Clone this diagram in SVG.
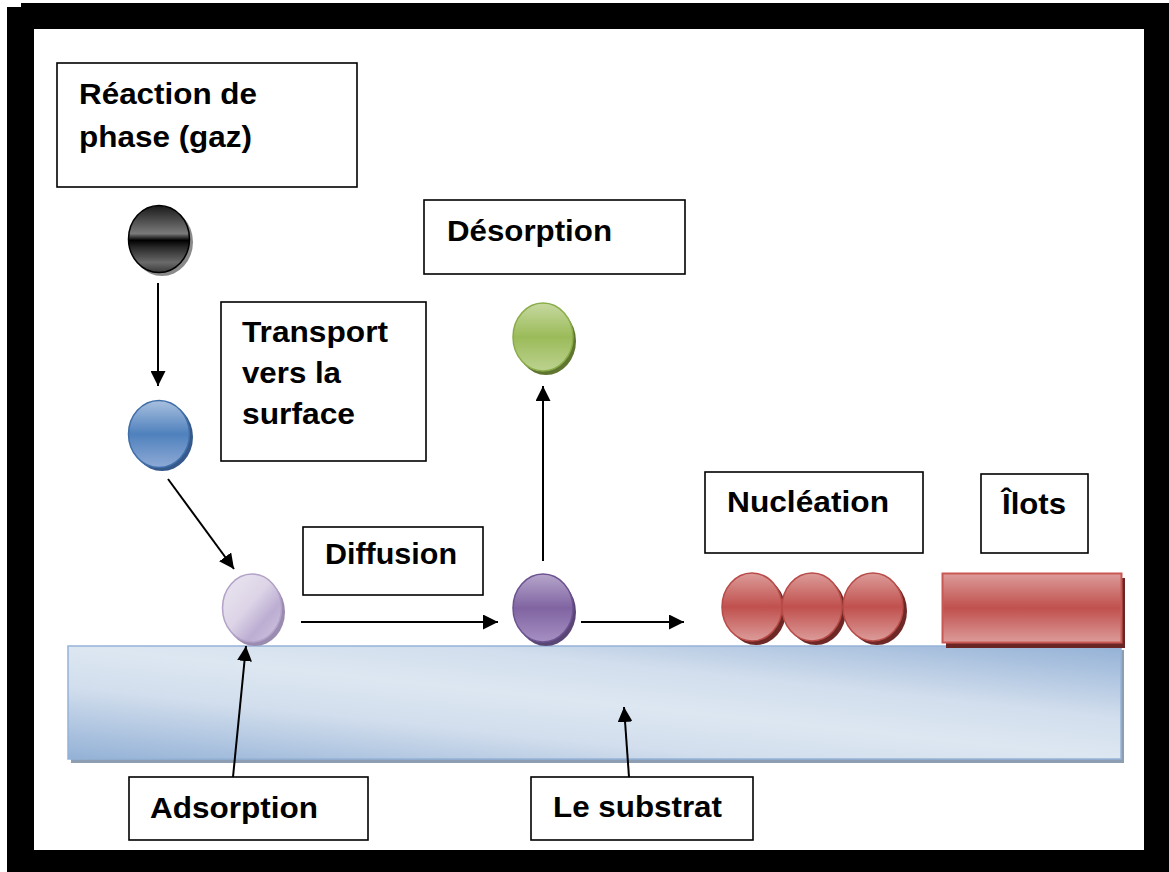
<svg xmlns="http://www.w3.org/2000/svg" width="1169" height="872" viewBox="0 0 1169 872">
  <style>
    .box { fill: #ffffff; stroke: #000000; stroke-width: 1.6; }
    .lbl { font-family: "Liberation Sans", Arial, sans-serif; font-weight: bold; font-size: 29px; fill: #000000; }
    .conn { fill: none; stroke: #000000; stroke-width: 2; marker-end: url(#arrow); }
  </style>
  <defs>
    <marker id="arrow" markerUnits="userSpaceOnUse" markerWidth="16" markerHeight="15" refX="15" refY="7.5" orient="auto">
      <path d="M0,0 L15,7.5 L0,15 Z" fill="#000000"/>
    </marker>
    <!-- substrate slab: light band on the diagonal, darker corners -->
    <linearGradient id="gSub" x1="0" y1="1" x2="1" y2="0">
      <stop offset="0" stop-color="#93b1d6"/>
      <stop offset="0.32" stop-color="#d2deed"/>
      <stop offset="0.5" stop-color="#dde7f2"/>
      <stop offset="0.68" stop-color="#d2deed"/>
      <stop offset="1" stop-color="#93b1d6"/>
    </linearGradient>
    <linearGradient id="gBlack" x1="0" y1="0" x2="0" y2="1">
      <stop offset="0" stop-color="#1a1a1a"/>
      <stop offset="0.42" stop-color="#7a7a7a"/>
      <stop offset="0.52" stop-color="#000000"/>
      <stop offset="0.62" stop-color="#262626"/>
      <stop offset="0.85" stop-color="#6a6a6a"/>
      <stop offset="1" stop-color="#3a3a3a"/>
    </linearGradient>
    <linearGradient id="gBlue" x1="0" y1="0" x2="0" y2="1">
      <stop offset="0" stop-color="#a9c0df"/>
      <stop offset="0.5" stop-color="#4f81bd"/>
      <stop offset="1" stop-color="#8eaad6"/>
    </linearGradient>
    <linearGradient id="gLav" x1="0" y1="0" x2="1" y2="1">
      <stop offset="0" stop-color="#ebe6f1"/>
      <stop offset="0.45" stop-color="#ddd5e7"/>
      <stop offset="0.7" stop-color="#bcadd2"/>
      <stop offset="1" stop-color="#d2c8e0"/>
    </linearGradient>
    <linearGradient id="gPurple" x1="0" y1="0" x2="0" y2="1">
      <stop offset="0" stop-color="#b6a6cb"/>
      <stop offset="0.5" stop-color="#8064a2"/>
      <stop offset="1" stop-color="#a690c2"/>
    </linearGradient>
    <linearGradient id="gGreen" x1="0" y1="0" x2="0" y2="1">
      <stop offset="0" stop-color="#c6d9a0"/>
      <stop offset="0.5" stop-color="#9bbb59"/>
      <stop offset="1" stop-color="#bcd290"/>
    </linearGradient>
    <linearGradient id="gRed" x1="0" y1="0" x2="0" y2="1">
      <stop offset="0" stop-color="#dc9c9a"/>
      <stop offset="0.5" stop-color="#c0504d"/>
      <stop offset="1" stop-color="#dc9c9a"/>
    </linearGradient>
  </defs>

  <!-- page and black frame -->
  <rect x="0" y="0" width="1169" height="872" fill="#ffffff"/>
  <path id="frame" fill="#000000" fill-rule="evenodd"
        d="M21,3 H1169 V872 H7 V7 H21 Z M34,29 V850 H1144 V29 Z"/>

  <!-- substrate slab -->
  <g id="substrate">
    <rect x="71" y="650" width="1053" height="113" fill="#8d9db2"/>
    <rect x="68" y="646" width="1053" height="113" fill="url(#gSub)" stroke="#95b3d7" stroke-width="1.5"/>
  </g>

  <!-- particles -->
  <g id="particle-gas">
    <ellipse cx="162" cy="242" rx="31" ry="34" fill="#8a8a8a"/>
    <ellipse cx="159" cy="239" rx="30.5" ry="33.5" fill="url(#gBlack)" stroke="#000000" stroke-width="1.5"/>
  </g>
  <g id="particle-transport">
    <ellipse cx="162" cy="437" rx="31" ry="34" fill="#35598a"/>
    <ellipse cx="159" cy="434" rx="30.5" ry="33.5" fill="url(#gBlue)" stroke="#3f6ea8" stroke-width="1.5"/>
  </g>
  <g id="particle-adsorbed">
    <ellipse cx="255" cy="612" rx="30" ry="34" fill="#9a8bb0"/>
    <ellipse cx="252" cy="608" rx="29.5" ry="34" fill="url(#gLav)" stroke="#b3a2c7" stroke-width="1.5"/>
  </g>
  <g id="particle-diffused">
    <ellipse cx="546" cy="612" rx="30" ry="34" fill="#5a4675"/>
    <ellipse cx="543" cy="608" rx="30" ry="34" fill="url(#gPurple)" stroke="#6c5290" stroke-width="1.5"/>
  </g>
  <g id="particle-desorbed">
    <ellipse cx="546" cy="341" rx="30" ry="34" fill="#5f7530"/>
    <ellipse cx="543" cy="337" rx="30" ry="34" fill="url(#gGreen)" stroke="#8aad4a" stroke-width="1.5"/>
  </g>
  <g id="nuclei">
    <ellipse cx="756" cy="611" rx="30" ry="34" fill="#6e2826"/>
    <ellipse cx="752" cy="607" rx="30" ry="34" fill="url(#gRed)" stroke="#b84a47" stroke-width="1.5"/>
    <ellipse cx="816" cy="611" rx="30" ry="34" fill="#6e2826"/>
    <ellipse cx="812" cy="607" rx="30" ry="34" fill="url(#gRed)" stroke="#b84a47" stroke-width="1.5"/>
    <ellipse cx="877" cy="611" rx="30" ry="34" fill="#6e2826"/>
    <ellipse cx="873" cy="607" rx="30" ry="34" fill="url(#gRed)" stroke="#b84a47" stroke-width="1.5"/>
  </g>
  <g id="island">
    <rect x="946" y="578" width="179" height="70" fill="#6a2624"/>
    <rect x="942.5" y="573.5" width="179" height="69" fill="url(#gRed)" stroke="#c95855" stroke-width="2"/>
  </g>

  <!-- connectors -->
  <g id="connectors">
    <line class="conn" x1="158" y1="283" x2="158" y2="386"/>
    <line class="conn" x1="168" y1="479" x2="234" y2="569"/>
    <line class="conn" x1="301" y1="622" x2="498" y2="622"/>
    <line class="conn" x1="581" y1="622" x2="684" y2="622"/>
    <line class="conn" x1="543" y1="561" x2="543" y2="386"/>
    <line class="conn" x1="233" y1="777" x2="246" y2="646"/>
    <line class="conn" x1="629" y1="777" x2="624" y2="707"/>
  </g>

  <!-- labels -->
  <g id="label-reaction">
    <rect class="box" x="57" y="63" width="300" height="124"/>
    <text class="lbl" x="79" y="104" textLength="178" lengthAdjust="spacingAndGlyphs">Réaction de</text>
    <text class="lbl" x="79" y="147" textLength="173" lengthAdjust="spacingAndGlyphs">phase (gaz)</text>
  </g>
  <g id="label-transport">
    <rect class="box" x="221" y="302" width="205" height="159"/>
    <text class="lbl" x="242" y="342" textLength="146" lengthAdjust="spacingAndGlyphs">Transport</text>
    <text class="lbl" x="242" y="383" textLength="99" lengthAdjust="spacingAndGlyphs">vers la</text>
    <text class="lbl" x="242" y="424" textLength="113" lengthAdjust="spacingAndGlyphs">surface</text>
  </g>
  <g id="label-desorption">
    <rect class="box" x="424" y="200" width="261" height="74"/>
    <text class="lbl" x="447" y="241" textLength="165" lengthAdjust="spacingAndGlyphs">Désorption</text>
  </g>
  <g id="label-diffusion">
    <rect class="box" x="303" y="527" width="180" height="68"/>
    <text class="lbl" x="325" y="564" textLength="132" lengthAdjust="spacingAndGlyphs">Diffusion</text>
  </g>
  <g id="label-nucleation">
    <rect class="box" x="705" y="472" width="218" height="81"/>
    <text class="lbl" x="727" y="512" textLength="162" lengthAdjust="spacingAndGlyphs">Nucléation</text>
  </g>
  <g id="label-ilots">
    <rect class="box" x="981" y="474" width="107" height="79"/>
    <text class="lbl" x="1002" y="514" textLength="64" lengthAdjust="spacingAndGlyphs">Îlots</text>
  </g>
  <g id="label-adsorption">
    <rect class="box" x="129" y="777" width="239" height="63"/>
    <text class="lbl" x="150" y="818" textLength="168" lengthAdjust="spacingAndGlyphs">Adsorption</text>
  </g>
  <g id="label-substrat">
    <rect class="box" x="531" y="777" width="222" height="63"/>
    <text class="lbl" x="553" y="817" textLength="169" lengthAdjust="spacingAndGlyphs">Le substrat</text>
  </g>
</svg>
